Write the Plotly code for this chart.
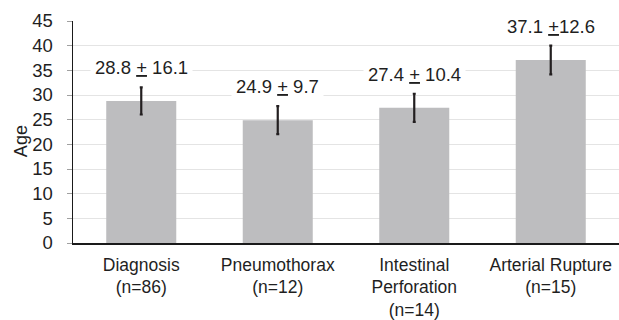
import plotly.graph_objects as go

categories = ["Diagnosis<br>(n=86)", "Pneumothorax<br>(n=12)",
              "Intestinal<br>Perforation<br>(n=14)", "Arterial Rupture<br>(n=15)"]
mean_age = [28.8, 24.9, 27.4, 37.1]
sd_age = [16.1, 9.7, 10.4, 12.6]
error_half = [2.75, 2.85, 2.85, 2.9]
label_sep = [" <u>+</u> ", " <u>+</u> ", " <u>+</u> ", " <u>+</u>"]
y_ticks = list(range(0, 50, 5))

FONT = "Liberation Sans, Arial, sans-serif"
TXT = "#1f1f1f"
FS = 18.5

fig = go.Figure()
fig.add_trace(go.Bar(
    x=categories, y=mean_age,
    marker=dict(color="#bdbdbf", line=dict(width=0)),
    error_y=dict(type="data", array=error_half, visible=True,
                 color="#231f20", thickness=2.2, width=1.5),
    hoverinfo="skip",
))

annotations = []
for c, m, s, sep in zip(categories, mean_age, sd_age, label_sep):
    annotations.append(dict(
        x=c, y=m + 6.8, xref="x", yref="y",
        text=f"{m}{sep}{s}", showarrow=False,
        xanchor="center", yanchor="middle",
        bgcolor="white", borderpad=4,
        font=dict(family=FONT, size=FS, color=TXT),
    ))
annotations.append(dict(
    text="Age", xref="paper", yref="paper", x=-0.096, y=0.457,
    textangle=-90, showarrow=False, xanchor="center", yanchor="middle",
    font=dict(family=FONT, size=18, color=TXT),
))

fig.update_layout(
    width=619, height=320,
    margin=dict(l=73, r=0, t=21, b=77, autoexpand=False),
    paper_bgcolor="white", plot_bgcolor="white",
    bargap=0.487,
    showlegend=False,
    font=dict(family=FONT, size=FS, color=TXT),
    annotations=annotations,
)
fig.update_xaxes(
    automargin=False,
    showline=True, linecolor="#1a1a1a", linewidth=1.5,
    ticks="", showgrid=False,
    tickfont=dict(family=FONT, size=17.5, color=TXT),
    ticklabelstandoff=5,
)
fig.update_yaxes(
    automargin=False,
    range=[0, 45], tickvals=y_ticks,
    showline=True, linecolor="#1a1a1a", linewidth=1.5,
    ticks="outside", ticklen=5, tickcolor="#a0a0a0", tickwidth=1,
    showgrid=True, gridcolor="#e4e4e4", gridwidth=1,
    zeroline=False,
    tickfont=dict(family=FONT, size=FS, color=TXT),
    ticklabelstandoff=10,
)

fig.write_html(
    "out.html",
    config={"displayModeBar": False, "staticPlot": True},
    post_script="document.body.style.margin='0';document.body.style.padding='0';document.body.style.overflow='hidden';",
)
